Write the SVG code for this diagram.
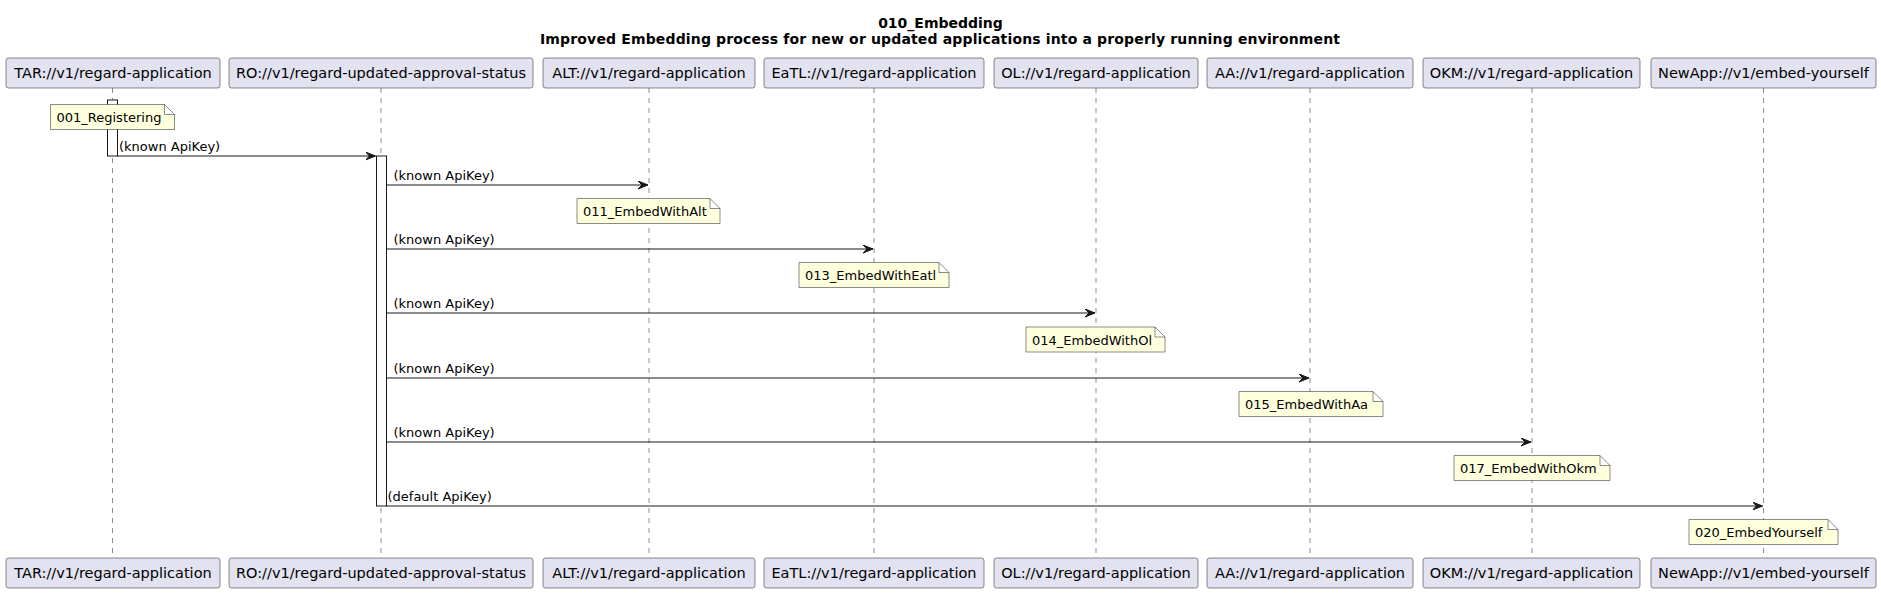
<svg xmlns="http://www.w3.org/2000/svg" width="1881" height="594" viewBox="0 0 1881 594">
<style>
text{font-family:"DejaVu Sans","Liberation Sans",sans-serif;fill:#000}
.title{font-size:14px;font-weight:bold;text-anchor:middle}
.pbox{fill:#E2E2F0;stroke:#181818;stroke-width:0.5}
.ptxt{font-size:14.5px;text-anchor:middle}
.life{stroke:#181818;stroke-width:0.5;stroke-dasharray:5,5;fill:none}
.act{fill:#FFFFFF;stroke:#181818;stroke-width:1}
.msg{stroke:#181818;stroke-width:1;fill:none}
.head{fill:#181818;stroke:#181818;stroke-width:1}
.mtxt{font-size:13px}
.note{fill:#FEFFDD;stroke:#181818;stroke-width:0.5}
.ntxt{font-size:13px}
</style>
<defs>
<marker id="arr" markerWidth="12" markerHeight="10" refX="10" refY="4" orient="auto" markerUnits="userSpaceOnUse">
<polygon class="head" points="0,0 10,4 0,8 4,4"/>
</marker>
</defs>
<rect x="0" y="0" width="1881" height="594" fill="#FFFFFF"/>
<g id="title">
<text class="title" x="940.5" y="27.5">010_Embedding</text>
<text class="title" x="940" y="43.5" textLength="800" lengthAdjust="spacing">Improved Embedding process for new or updated applications into a properly running environment</text>
</g>
<g id="lifelines">
<line class="life" x1="112.5" y1="88" x2="112.5" y2="558"/>
<line class="life" x1="381" y1="88" x2="381" y2="558"/>
<line class="life" x1="649" y1="88" x2="649" y2="558"/>
<line class="life" x1="874" y1="88" x2="874" y2="558"/>
<line class="life" x1="1096" y1="88" x2="1096" y2="558"/>
<line class="life" x1="1310" y1="88" x2="1310" y2="558"/>
<line class="life" x1="1532" y1="88" x2="1532" y2="558"/>
<line class="life" x1="1763.5" y1="88" x2="1763.5" y2="558"/>
</g>
<g id="TAR">
<rect class="pbox" x="6" y="58" width="214" height="30" rx="2.5"/>
<text class="ptxt" x="113" y="78">TAR://v1/regard-application</text>
<rect class="pbox" x="6" y="558" width="214" height="30" rx="2.5"/>
<text class="ptxt" x="113" y="578">TAR://v1/regard-application</text>
<rect class="act" x="107.5" y="100" width="10" height="56"/>
</g>
<g id="RO">
<rect class="pbox" x="229" y="58" width="304" height="30" rx="2.5"/>
<text class="ptxt" x="381" y="78">RO://v1/regard-updated-approval-status</text>
<rect class="pbox" x="229" y="558" width="304" height="30" rx="2.5"/>
<text class="ptxt" x="381" y="578">RO://v1/regard-updated-approval-status</text>
<rect class="act" x="376.5" y="156" width="10" height="350"/>
</g>
<g id="ALT">
<rect class="pbox" x="543" y="58" width="212" height="30" rx="2.5"/>
<text class="ptxt" x="649" y="78">ALT://v1/regard-application</text>
<rect class="pbox" x="543" y="558" width="212" height="30" rx="2.5"/>
<text class="ptxt" x="649" y="578">ALT://v1/regard-application</text>
</g>
<g id="EaTL">
<rect class="pbox" x="764" y="58" width="220" height="30" rx="2.5"/>
<text class="ptxt" x="874" y="78">EaTL://v1/regard-application</text>
<rect class="pbox" x="764" y="558" width="220" height="30" rx="2.5"/>
<text class="ptxt" x="874" y="578">EaTL://v1/regard-application</text>
</g>
<g id="OL">
<rect class="pbox" x="994" y="58" width="204" height="30" rx="2.5"/>
<text class="ptxt" x="1096" y="78">OL://v1/regard-application</text>
<rect class="pbox" x="994" y="558" width="204" height="30" rx="2.5"/>
<text class="ptxt" x="1096" y="578">OL://v1/regard-application</text>
</g>
<g id="AA">
<rect class="pbox" x="1207" y="58" width="206" height="30" rx="2.5"/>
<text class="ptxt" x="1310" y="78">AA://v1/regard-application</text>
<rect class="pbox" x="1207" y="558" width="206" height="30" rx="2.5"/>
<text class="ptxt" x="1310" y="578">AA://v1/regard-application</text>
</g>
<g id="OKM">
<rect class="pbox" x="1423" y="58" width="217" height="30" rx="2.5"/>
<text class="ptxt" x="1531.5" y="78">OKM://v1/regard-application</text>
<rect class="pbox" x="1423" y="558" width="217" height="30" rx="2.5"/>
<text class="ptxt" x="1531.5" y="578">OKM://v1/regard-application</text>
</g>
<g id="NewApp">
<rect class="pbox" x="1651" y="58" width="225" height="30" rx="2.5"/>
<text class="ptxt" x="1763.5" y="78">NewApp://v1/embed-yourself</text>
<rect class="pbox" x="1651" y="558" width="225" height="30" rx="2.5"/>
<text class="ptxt" x="1763.5" y="578">NewApp://v1/embed-yourself</text>
</g>
<g id="connectors">
<line class="msg" x1="117.5" y1="156" x2="375.5" y2="156" marker-end="url(#arr)"/>
<text class="mtxt" x="119" y="151">(known ApiKey)</text>
<line class="msg" x1="386.5" y1="185" x2="648" y2="185" marker-end="url(#arr)"/>
<text class="mtxt" x="393.5" y="180">(known ApiKey)</text>
<line class="msg" x1="386.5" y1="249" x2="873" y2="249" marker-end="url(#arr)"/>
<text class="mtxt" x="393.5" y="244">(known ApiKey)</text>
<line class="msg" x1="386.5" y1="313" x2="1095" y2="313" marker-end="url(#arr)"/>
<text class="mtxt" x="393.5" y="308">(known ApiKey)</text>
<line class="msg" x1="386.5" y1="378" x2="1309" y2="378" marker-end="url(#arr)"/>
<text class="mtxt" x="393.5" y="373">(known ApiKey)</text>
<line class="msg" x1="386.5" y1="442" x2="1531" y2="442" marker-end="url(#arr)"/>
<text class="mtxt" x="393.5" y="437">(known ApiKey)</text>
<line class="msg" x1="386.5" y1="506" x2="1762.5" y2="506" marker-end="url(#arr)"/>
<text class="mtxt" x="387.5" y="501">(default ApiKey)</text>
</g>
<g id="note001">
<path class="note" d="M50.5,104.5 L164.5,104.5 L174.5,114.5 L174.5,129.5 L50.5,129.5 Z M164.5,104.5 L164.5,114.5 L174.5,114.5"/>
<text class="ntxt" x="56.5" y="122">001_Registering</text>
</g>
<g id="note011">
<path class="note" d="M577,198.5 L710,198.5 L720,208.5 L720,223.5 L577,223.5 Z M710,198.5 L710,208.5 L720,208.5"/>
<text class="ntxt" x="583" y="216">011_EmbedWithAlt</text>
</g>
<g id="note013">
<path class="note" d="M799,262.5 L939,262.5 L949,272.5 L949,287.5 L799,287.5 Z M939,262.5 L939,272.5 L949,272.5"/>
<text class="ntxt" x="805" y="280">013_EmbedWithEatl</text>
</g>
<g id="note014">
<path class="note" d="M1026,327 L1155,327 L1165,337 L1165,352 L1026,352 Z M1155,327 L1155,337 L1165,337"/>
<text class="ntxt" x="1032" y="344.5">014_EmbedWithOl</text>
</g>
<g id="note015">
<path class="note" d="M1239,391.5 L1373,391.5 L1383,401.5 L1383,416.5 L1239,416.5 Z M1373,391.5 L1373,401.5 L1383,401.5"/>
<text class="ntxt" x="1245" y="409">015_EmbedWithAa</text>
</g>
<g id="note017">
<path class="note" d="M1454,455.5 L1600,455.5 L1610,465.5 L1610,480.5 L1454,480.5 Z M1600,455.5 L1600,465.5 L1610,465.5"/>
<text class="ntxt" x="1460" y="473">017_EmbedWithOkm</text>
</g>
<g id="note020">
<path class="note" d="M1689,519.5 L1828,519.5 L1838,529.5 L1838,544.5 L1689,544.5 Z M1828,519.5 L1828,529.5 L1838,529.5"/>
<text class="ntxt" x="1695" y="537">020_EmbedYourself</text>
</g>
</svg>
